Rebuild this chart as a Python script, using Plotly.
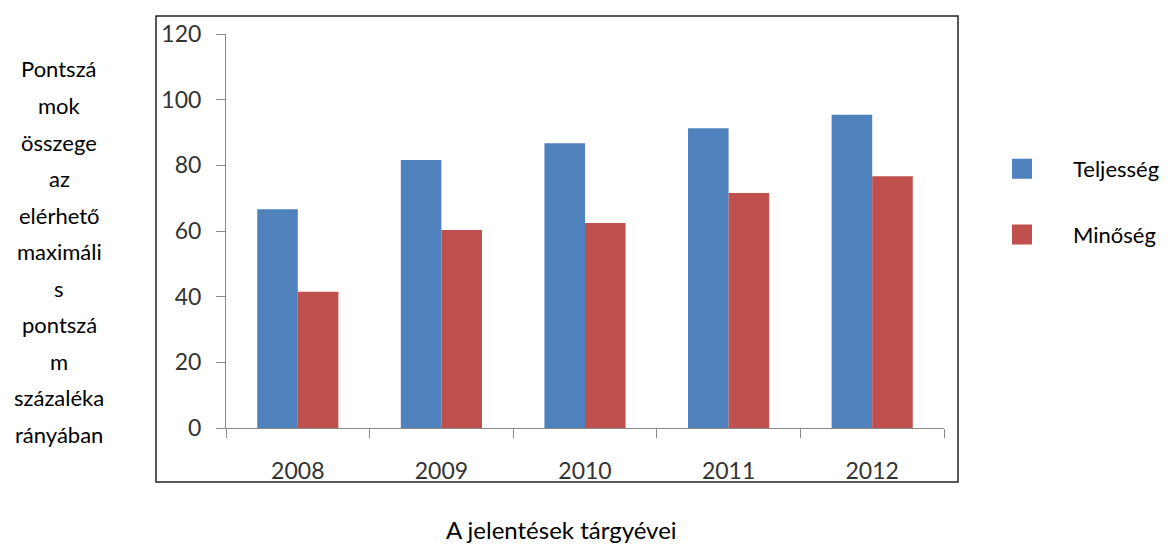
import plotly.graph_objects as go

# ---- data ----
years = ["2008", "2009", "2010", "2011", "2012"]
teljesseg = [66.6, 81.6, 86.7, 91.3, 95.4]
minoseg = [41.5, 60.3, 62.4, 71.6, 76.7]
series_names = ["Teljesség", "Minőség"]
series_colors = ["#4F81BD", "#C0504D"]
y_ticks = [0, 20, 40, 60, 80, 100, 120]
grid_ticks = [20, 100, 120]
y_title_lines = ["Pontszá", "mok", "összege", "az", "elérhető", "maximáli",
                 "s", "pontszá", "m", "százaléka", "rányában"]
x_title = "A jelentések tárgyévei"

# ---- layout geometry (page pixels; the page body has an 8px margin) ----
OFF = 8
W, H = 1172 - OFF, 547 - OFF
L, R, T, B = 226 - OFF, 228, 34 - OFF, 119
PW, PH = W - L - R, H - T - B


def px_x(px):
    return (px - OFF - L) / PW


def px_y(py):
    return (H - B - (py - OFF)) / PH


FONT = "Lato, 'Open Sans', sans-serif"
AXIS_GRAY = "#8A8A8A"

fig = go.Figure()
for name, vals, col in zip(series_names, [teljesseg, minoseg], series_colors):
    fig.add_trace(go.Bar(x=years, y=vals, name=name, marker_color=col,
                         marker_line_width=0, showlegend=False))
# legend entries
for i, (name, col) in enumerate(zip(series_names, series_colors)):
    fig.add_trace(go.Scatter(x=[None], y=[None], mode="markers", name=name,
                             legendgroup=f"g{i}",
                             marker=dict(symbol="square", size=16, color=col,
                                         line=dict(color=col, width=4))))

# grid lines only at selected values (overlay axis)
fig.update_layout(
    yaxis2=dict(overlaying="y", anchor="x", range=[0, 120], tickvals=grid_ticks,
                showgrid=True, gridcolor=AXIS_GRAY, gridwidth=1,
                showticklabels=False, ticks="", zeroline=False, showline=False,
                fixedrange=True),
)

annotations = []
for i, line in enumerate(y_title_lines):
    annotations.append(dict(text=line, xref="paper", yref="paper",
                            x=px_x(59), y=px_y(69 + 36.5 * i),
                            xanchor="center", yanchor="middle", showarrow=False,
                            font=dict(family=FONT, size=22, color="#000")))
annotations.append(dict(text=x_title, xref="paper", yref="paper",
                        x=px_x(561), y=px_y(529), xanchor="center",
                        yanchor="middle", showarrow=False,
                        font=dict(family=FONT, size=24, color="#000")))

fig.update_layout(
    width=W, height=H, autosize=False,
    margin=dict(l=L, r=R, t=T, b=B, pad=0, autoexpand=False),
    paper_bgcolor="white", plot_bgcolor="white",
    barmode="group", bargap=0.435, bargroupgap=0,
    font=dict(family=FONT, size=22, color="#333"),
    xaxis=dict(type="category", categoryorder="array", categoryarray=years,
               showline=True, linecolor=AXIS_GRAY, linewidth=1,
               ticks="outside", tickson="boundaries", ticklen=9,
               tickcolor=AXIS_GRAY, showgrid=False, zeroline=False,
               tickfont=dict(family=FONT, size=23, color="#333"),
               ticklabelstandoff=22),
    yaxis=dict(range=[0, 120], tickvals=y_ticks, showgrid=False,
               showline=True, linecolor=AXIS_GRAY, linewidth=1,
               ticks="outside", ticklen=9, tickcolor=AXIS_GRAY,
               zeroline=False, ticklabelstandoff=10,
               tickfont=dict(family=FONT, size=23, color="#333")),
    legend=dict(x=px_x(971), y=px_y(148), xanchor="left", yanchor="top",
                itemwidth=92, tracegroupgap=34,
                font=dict(family=FONT, size=22, color="#000"),
                bgcolor="rgba(0,0,0,0)"),
    annotations=annotations,
    shapes=[dict(type="rect", xref="paper", yref="paper",
                 x0=px_x(156), x1=px_x(958), y0=px_y(482), y1=px_y(16),
                 line=dict(color="#222", width=1.5), layer="below")],
    showlegend=True,
)

fig.write_html("out.html")
